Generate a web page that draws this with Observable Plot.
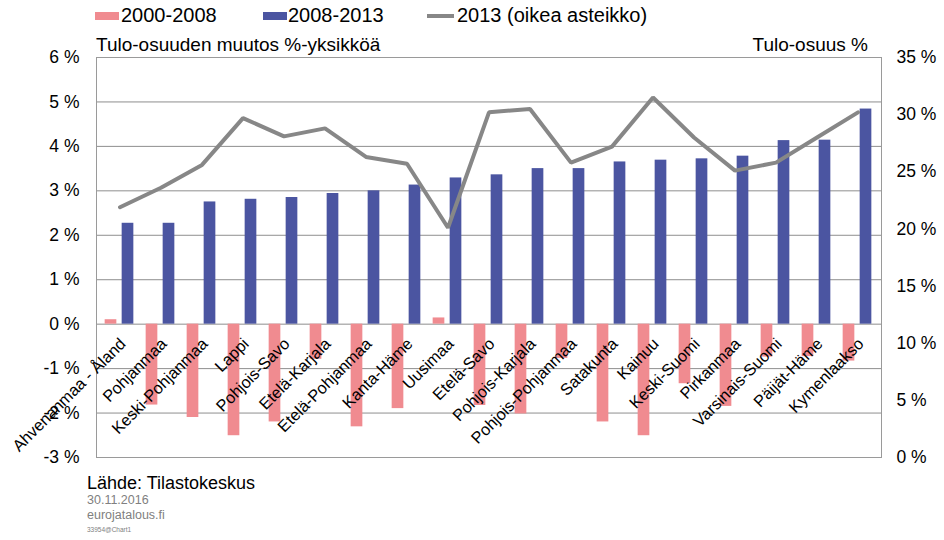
<!DOCTYPE html>
<html>
<head>
<meta charset="utf-8">
<script src="https://cdn.jsdelivr.net/npm/d3@7"></script>
<script src="https://cdn.jsdelivr.net/npm/@observablehq/plot@0.6"></script>
<style>
  html, body { margin: 0; padding: 0; background: #fff; }
  #wrap { position: relative; width: 944px; height: 540px; overflow: hidden; font-family: "Liberation Sans", Arial, sans-serif; }
  #wrap svg { position: absolute; left: 0; top: 0; }
  .t { position: absolute; line-height: 1; white-space: nowrap; color: #000; }
  .sw { position: absolute; }
</style>
</head>
<body>
<div id="wrap">
  <div id="chart"></div>
  <div class="sw" style="left:95px;top:12px;width:24px;height:8px;background:#f08b90"></div>
  <div class="t" style="left:121px;top:5.4px;font-size:20px">2000-2008</div>
  <div class="sw" style="left:263px;top:12px;width:24px;height:8px;background:#4b55a1"></div>
  <div class="t" style="left:288px;top:5.4px;font-size:20px">2008-2013</div>
  <div class="sw" style="left:427px;top:14px;width:27px;height:4px;background:#878787"></div>
  <div class="t" style="left:457px;top:5.4px;font-size:20px">2013 (oikea asteikko)</div>
  <div class="t" style="left:96px;top:35px;font-size:19px">Tulo-osuuden muutos %-yksikköä</div>
  <div class="t" style="right:76px;top:35px;font-size:19px">Tulo-osuus %</div>
  <div class="t" style="left:87px;top:474px;font-size:18px">Lähde: Tilastokeskus</div>
  <div class="t" style="left:87px;top:494.4px;font-size:12.5px;color:#808080">30.11.2016</div>
  <div class="t" style="left:87px;top:509.4px;font-size:12.5px;color:#808080">eurojatalous.fi</div>
  <div class="t" style="left:87px;top:526.5px;font-size:6.5px;color:#808080">33954@Chart1</div>
</div>
<script>
const regions = ["Ahvenanmaa - Åland","Pohjanmaa","Keski-Pohjanmaa","Lappi","Pohjois-Savo","Etelä-Karjala","Etelä-Pohjanmaa","Kanta-Häme","Uusimaa","Etelä-Savo","Pohjois-Karjala","Pohjois-Pohjanmaa","Satakunta","Kainuu","Keski-Suomi","Pirkanmaa","Varsinais-Suomi","Päijät-Häme","Kymenlaakso"];
const change2000_2008 = [0.10,-1.82,-2.10,-2.51,-2.20,-0.79,-2.31,-1.90,0.14,-1.83,-2.02,-0.77,-2.20,-2.51,-1.34,-1.85,-0.74,-0.73,-0.83];
const change2008_2013 = [2.27,2.27,2.75,2.81,2.85,2.94,3.00,3.13,3.29,3.36,3.50,3.50,3.65,3.69,3.72,3.78,4.13,4.14,4.84];
const share2013 = [21.9,23.6,25.6,29.7,28.1,28.8,26.3,25.7,20.1,30.2,30.5,25.8,27.2,31.5,28.0,25.1,25.8,28.0,30.2];
const leftTicks = [-3,-2,-1,0,1,2,3,4,5,6];
const rightTicks = [0,5,10,15,20,25,30,35];

// right scale 0..35 mapped onto left scale -3..6
const toLeft = v => v * 9 / 35 - 3;
const data = regions.map((r, i) => ({region: r, a: change2000_2008[i], b: change2008_2013[i], s: share2013[i]}));

const bw = (944 - 96 - 63) / regions.length;
const half = bw / 2;

const chart = Plot.plot({
  width: 944,
  height: 540,
  marginLeft: 96,
  marginRight: 63,
  marginTop: 57,
  marginBottom: 83,
  style: {fontFamily: '"Liberation Sans", Arial, sans-serif', background: "transparent", overflow: "visible"},
  x: {type: "band", domain: regions, padding: 0, axis: null},
  y: {domain: [-3, 6], axis: null},
  marks: [
    Plot.ruleY(leftTicks, {stroke: "#8e8e8e", strokeWidth: 1}),
    Plot.frame({stroke: "#9a9a9a"}),
    Plot.barY(data, {x: "region", y1: 0, y2: "a", fill: "#f08b90", insetLeft: half - 15, insetRight: half + 3}),
    Plot.barY(data, {x: "region", y1: 0, y2: "b", fill: "#4b55a1", insetLeft: half + 2, insetRight: half - 14}),
    Plot.line(data, {x: "region", y: d => toLeft(d.s), stroke: "#878787", strokeWidth: 4, strokeLinejoin: "miter"}),
    Plot.text(data, {x: "region", y: () => 0, text: "region", rotate: -45, textAnchor: "end", dx: 3, dy: 17, fontSize: 16.3, fill: "#000"}),
    Plot.axisY(leftTicks, {anchor: "left", tickSize: 0, tickPadding: 17, fontSize: 17.5, tickFormat: d => `${d} %`, label: null, color: "#000"}),
    Plot.axisY(rightTicks.map(toLeft), {anchor: "right", tickSize: 0, tickPadding: 15, fontSize: 17.5, tickFormat: d => `${Math.round((d + 3) * 35 / 9)} %`, label: null, color: "#000"})
  ]
});
document.getElementById("chart").appendChild(chart);
</script>
</body>
</html>
